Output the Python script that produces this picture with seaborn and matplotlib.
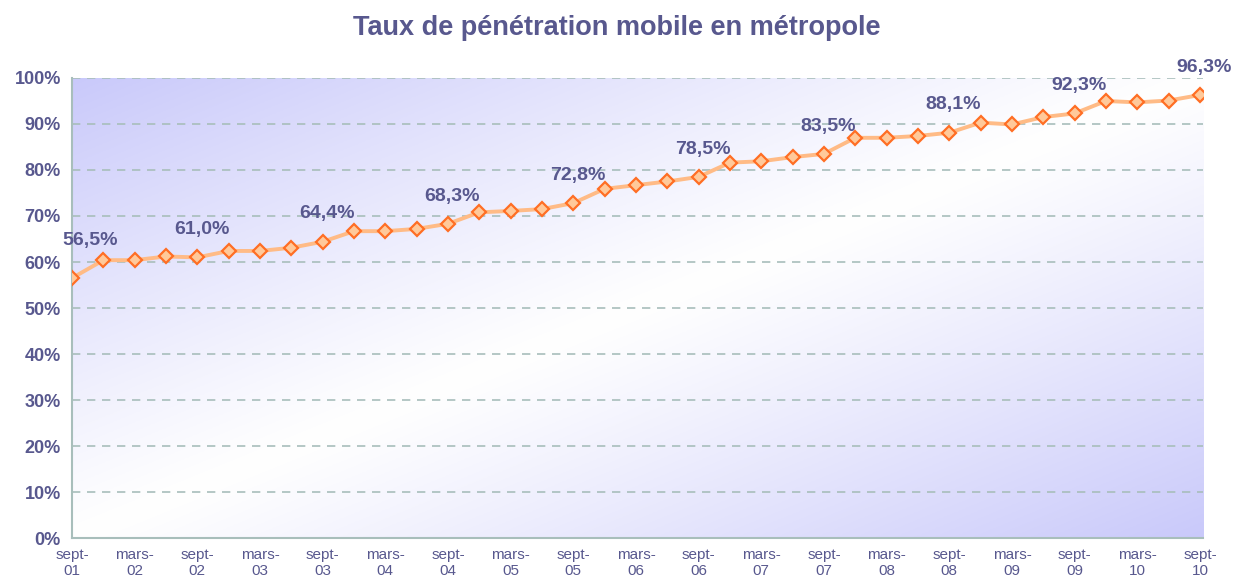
import numpy as np
import pandas as pd
import matplotlib
matplotlib.use("Agg")
from matplotlib import pyplot as plt
import seaborn as sns

# Données : taux de pénétration mobile (trimestriel, sept-01 -> sept-10)
trimestres = ['sept-01', 'déc-01', 'mars-02', 'juin-02', 'sept-02', 'déc-02', 'mars-03', 'juin-03',
              'sept-03', 'déc-03', 'mars-04', 'juin-04', 'sept-04', 'déc-04', 'mars-05', 'juin-05',
              'sept-05', 'déc-05', 'mars-06', 'juin-06', 'sept-06', 'déc-06', 'mars-07', 'juin-07',
              'sept-07', 'déc-07', 'mars-08', 'juin-08', 'sept-08', 'déc-08', 'mars-09', 'juin-09',
              'sept-09', 'déc-09', 'mars-10', 'juin-10', 'sept-10']
taux = [56.5, 60.4, 60.4, 61.2, 61.0, 62.4, 62.4, 63.1,
        64.4, 66.7, 66.7, 67.2, 68.3, 70.8, 71.1, 71.5,
        72.8, 75.9, 76.7, 77.5, 78.5, 81.6, 81.9, 82.8,
        83.5, 87.0, 87.0, 87.4, 88.1, 90.3, 89.9, 91.5,
        92.3, 95.0, 94.7, 95.1, 96.3]
# étiquettes affichées : chaque mois de septembre
etiquettes = ['sept-01', 'sept-02', 'sept-03', 'sept-04', 'sept-05',
              'sept-06', 'sept-07', 'sept-08', 'sept-09', 'sept-10']

df = pd.DataFrame({'trimestre': trimestres, 'taux': taux})
df['pos'] = range(len(df))

sns.set_style("white")
plt.rcParams['font.family'] = ['Liberation Sans', 'DejaVu Sans']

texte = '#58588e'
grille = '#a8bebb'

fig = plt.figure(figsize=(12.33, 5.86), dpi=100)
ax = fig.add_axes([0.0584, 0.0819, 0.9173, 0.785])

# fond en dégradé diagonal (coins violets, centre blanc)
n = 300
u, v = np.meshgrid(np.linspace(0, 1, n), np.linspace(1, 0, n))
t = np.abs((u + (1 - v)) / 2 - 0.5) * 2
t = np.clip(t, 0, 1) ** 1.1
coin = np.array(matplotlib.colors.to_rgb('#c9c9fa'))
img = (1 - t[..., None]) * np.ones(3) + t[..., None] * coin
ax.imshow(img, extent=[0, 1, 0, 1], transform=ax.transAxes, aspect='auto', zorder=0)

sns.lineplot(data=df, x='pos', y='taux', ax=ax, color='#ffbb86', linewidth=2.8,
             marker='D', markersize=7, markerfacecolor='#ffc99a',
             markeredgecolor='#ff6e24', markeredgewidth=1.6, zorder=3)

for _, r in df[df['trimestre'].isin(etiquettes)].iterrows():
    dx, dy = (13, 27) if r['pos'] == 0 else (3, 20)
    ax.annotate(f"{r['taux']:.1f}%".replace('.', ','), (r['pos'], r['taux']),
                xytext=(dx, dy), textcoords='offset points', ha='center', va='center',
                fontsize=14, fontweight='bold', color=texte, zorder=4, annotation_clip=False)

ax.set_xlim(0, 36.1)
ax.set_ylim(0, 100)
ax.set_yticks(range(0, 101, 10))
ax.set_yticklabels([f"{y}%" for y in range(0, 101, 10)], fontsize=13, fontweight='bold', color=texte)
xt = df['pos'][::2]
ax.set_xticks(xt)
ax.set_xticklabels([s.replace('-', '-\n') for s in df['trimestre'][::2]], fontsize=11,
                   color=texte, linespacing=1.2)
ax.tick_params(axis='both', length=4, color=grille, direction='out')
ax.tick_params(axis='y', pad=4)
ax.tick_params(axis='x', pad=3)
ax.yaxis.grid(True, linestyle=(0, (5, 4)), color=grille, linewidth=1.2, zorder=1)
ax.set_axisbelow(True)
ax.set_xlabel('')
ax.set_ylabel('')
for s in ['top', 'right']:
    ax.spines[s].set_visible(False)
for s in ['left', 'bottom']:
    ax.spines[s].set_color(grille)
    ax.spines[s].set_linewidth(1.5)

fig.text(0.5, 0.952, 'Taux de pénétration mobile en métropole', ha='center', va='center',
         fontsize=19.5, fontweight='bold', color=texte)

fig.savefig('out.png', dpi=100)
